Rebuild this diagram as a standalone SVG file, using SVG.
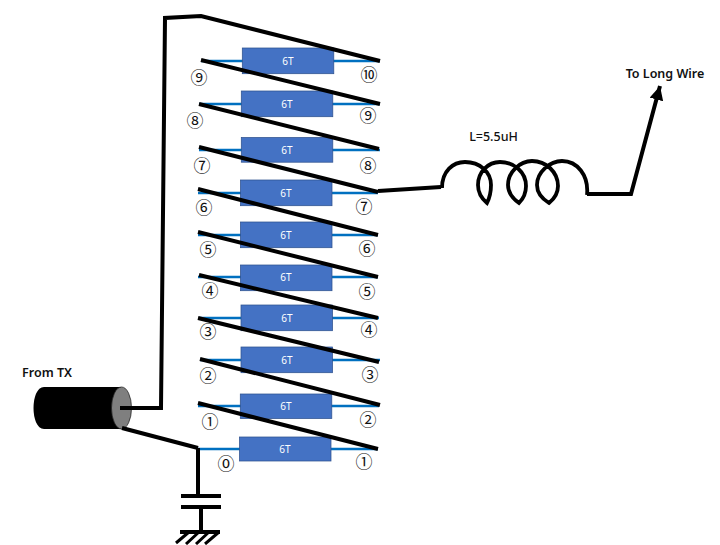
<svg xmlns="http://www.w3.org/2000/svg" width="720" height="545" viewBox="0 0 720 545">
<style>
.tap{stroke:#0070C0;stroke-width:2.5;fill:none}
.box{fill:#4472C4;stroke:#2F528F;stroke-width:.75}
.wire{stroke:#000;stroke-width:4;fill:none;stroke-linejoin:miter}
.thin{stroke:#000;stroke-width:3;fill:none}
.t6{font:10px "Noto Sans",sans-serif;fill:#fff;text-anchor:middle}
.n{font:17px "Noto Sans CJK JP",sans-serif;fill:#111;text-anchor:middle}
.lbl{font:600 12.500px "Noto Sans",sans-serif;fill:#111;text-anchor:middle}
</style>
<defs>
<marker id="arr" markerUnits="userSpaceOnUse" markerWidth="16" markerHeight="16" refX="14" refY="7" orient="auto"><path d="M0,0L14,7L0,14Z" fill="#000"/></marker>
</defs>
<g id="taps">
<path class="tap" d="M201 61H380M199 104H380M199 150H380M198 193H378M198 235H378M198 277H378M199 318H379M200 360H380M198 406H379M198 449H378"/>
</g>
<g id="coils">
<g id="c10"><rect class="box" x="242.3" y="48" width="91.5" height="25.7"/><text class="t6" x="288" y="65">6T</text></g>
<g id="c9"><rect class="box" x="241.3" y="91" width="91.5" height="25.7"/><text class="t6" x="287" y="108">6T</text></g>
<g id="c8"><rect class="box" x="241.3" y="137.5" width="91.5" height="24.7"/><text class="t6" x="287" y="154">6T</text></g>
<g id="c7"><rect class="box" x="240.5" y="180" width="91.5" height="25.7"/><text class="t6" x="286" y="197">6T</text></g>
<g id="c6"><rect class="box" x="240.5" y="222" width="91.5" height="25.7"/><text class="t6" x="286" y="239">6T</text></g>
<g id="c5"><rect class="box" x="240.5" y="265" width="91.5" height="25.7"/><text class="t6" x="286" y="281">6T</text></g>
<g id="c4"><rect class="box" x="241" y="305" width="91.5" height="25.7"/><text class="t6" x="287" y="322">6T</text></g>
<g id="c3"><rect class="box" x="241" y="347" width="91.5" height="25.7"/><text class="t6" x="287" y="364">6T</text></g>
<g id="c2"><rect class="box" x="240.3" y="394" width="91.5" height="24.5"/><text class="t6" x="286" y="410">6T</text></g>
<g id="c1"><rect class="box" x="239.5" y="437" width="91.5" height="24"/><text class="t6" x="285" y="453">6T</text></g>
</g>
<g id="windings">
<path class="wire" d="M120 408H161L165 18L201 16L380 61"/>
<path class="wire" d="M201 60L380 104M199 104L379 149M199 147L378 192M198 189L378 235M198 232L378 277M199 275L378 318M198 318L379 362M200 359L380 405M198 403L378 449"/>
</g>
<g id="cable">
<path d="M44 387H121V429H44C30 429 30 387 44 387Z" fill="#000"/>
<ellipse cx="121.500" cy="408" rx="10" ry="21" fill="#7f7f7f" stroke="#222" stroke-width=".75"/>
<path class="wire" d="M120 408H161"/>
<path class="wire" d="M122 428L198 448"/>
</g>
<g id="capacitor">
<path class="wire" d="M198 448V495M201 507V531"/>
<path class="wire" d="M181 496H221M181 507H221"/>
</g>
<g id="ground">
<path class="wire" d="M180 532H220"/>
<path class="thin" d="M189 532L176 543M199 532L186 544M209 532L196 544M219 532L205 544"/>
</g>
<g id="inductor">
<path class="wire" d="M378 191L441 187"/>
<path d="M442 188C442 171 453 162 465 162C480 162 491 172 491 185C491 193 489 199 487 203C481 198 478 192 478 185C478 172 488 162 500 162C514 162 526 172 526 186C526 193 523 199 519 203C512 198 508 192 508 185C508 172 520 161 532 161C546 161 558 172 558 186C558 193 554 199 549 203C541 198 537 192 537 185C537 172 550 161 562 161C577 161 589 175 587 195" fill="none" stroke="#000" stroke-width="3.800"/>
<path class="wire" d="M587 194H631L660 86" marker-end="url(#arr)"/>
</g>
<g id="labels">
<text class="lbl" x="47" y="377">From TX</text>
<text class="lbl" x="665" y="78">To Long Wire</text>
<text class="lbl" x="493.500" y="141" style="font-weight:500">L=5.5uH</text>
<text class="n" x="199" y="84">⑨</text><text class="n" x="195" y="127">⑧</text><text class="n" x="202" y="172">⑦</text><text class="n" x="204" y="214">⑥</text><text class="n" x="208" y="256">⑤</text><text class="n" x="210" y="297">④</text><text class="n" x="208" y="338">③</text><text class="n" x="208" y="382">②</text><text class="n" x="210" y="428">①</text><text class="n" x="226" y="470">⓪</text>
<text class="n" x="369" y="81">⑩</text><text class="n" x="368" y="122">⑨</text><text class="n" x="368" y="172">⑧</text><text class="n" x="364" y="213">⑦</text><text class="n" x="367" y="255">⑥</text><text class="n" x="367" y="298">⑤</text><text class="n" x="369" y="336">④</text><text class="n" x="370" y="381">③</text><text class="n" x="368" y="426">②</text><text class="n" x="364" y="468">①</text>
</g>
</svg>
